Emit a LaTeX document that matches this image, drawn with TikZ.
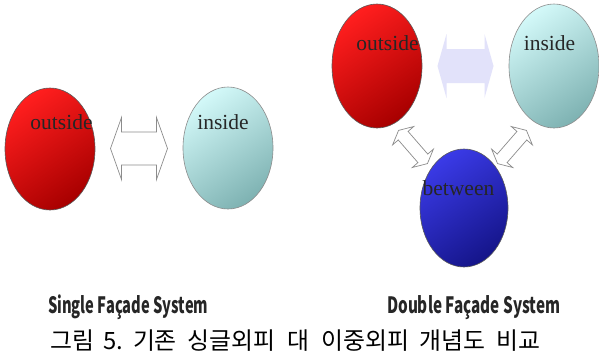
\documentclass[tikz,border=0pt]{standalone}
\usepackage{fontspec}
\usepackage{graphicx}
\usetikzlibrary{shapes.geometric,calc}
\setmainfont{Liberation Serif}
\newfontfamily\krfont{Noto Sans CJK KR}
\newfontfamily\labfont{Noto Sans CJK KR}
\definecolor{redA}{HTML}{FF1E1E}
\definecolor{redB}{HTML}{A80000}
\definecolor{cyA}{HTML}{D2F8F8}
\definecolor{cyB}{HTML}{7FB3B3}
\definecolor{blA}{HTML}{3A3AE6}
\definecolor{blB}{HTML}{15158A}
\definecolor{lav}{HTML}{E2E2FA}
% double block arrow: half length, head length, half head width, half shaft width
\newcommand\DArrow[4]{(-#1,0) -- (-#1+#2,-#3) -- (-#1+#2,-#4) -- (#1-#2,-#4) -- (#1-#2,-#3) -- (#1,0) -- (#1-#2,#3) -- (#1-#2,#4) -- (-#1+#2,#4) -- (-#1+#2,#3) -- cycle}
\begin{document}
\begin{tikzpicture}[x=1pt,y=-1pt,
  ball/.style={ellipse, inner sep=0, minimum width=90pt, line width=0.6pt},
  redball/.style={ball, draw=black!65, top color=redA, bottom color=redB, shading angle=35},
  cyball/.style={ball, draw=black!45, top color=cyA, bottom color=cyB, shading angle=35},
  blball/.style={ball, draw=black!65, top color=blA, bottom color=blB, shading angle=35},
  lbl/.style={font=\fontsize{21.5}{21.5}\selectfont, text=black!85, inner sep=0, anchor=base},
  hollow/.style={draw=black!45, line width=0.7pt, fill=white, line join=miter},
  soft/.style={fill=lav, draw=none},
  sysname/.style={inner sep=0, anchor=base west, text=black!85},
]
\useasboundingbox (0,0) rectangle (599,360);
\fill[white] (0,0) rectangle (599,360);

% single facade
\node[redball, minimum height=122pt] (lo) at (50,149) {};
\node[cyball, minimum height=122pt] (li) at (228,148) {};
\node[lbl] (tlo) at (61.5,129) {outside};
\node[lbl] (tli) at (223,129) {inside};
\fill[hollow, shift={($(lo)!0.5!(li)$)}] \DArrow{28.5}{11}{31}{16.5};

% double facade
\node[redball, minimum height=124pt] (ro) at (377,66) {};
\node[cyball, minimum height=124pt] (ri) at (554,66) {};
\node[blball, minimum width=88pt, minimum height=118pt] (rb) at (464,208) {};
\node[lbl] (tro) at (387.5,50) {outside};
\node[lbl] (tri) at (549.5,50) {inside};
\node[lbl] (trb) at (458.5,195) {between};
\fill[soft, shift={($(ro)!0.5!(ri)$)}] \DArrow{28}{9}{32}{17};
\filldraw[hollow, shift={(413,147)}, rotate=-49] \DArrow{22}{7}{14}{6.5};
\filldraw[hollow, shift={(512,147)}, rotate=49] \DArrow{22}{7}{14}{6.5};

% captions
\node[sysname] (s1) at (48,313) {\resizebox{160pt}{\height}{\labfont\bfseries\fontsize{22.5}{22.5}\selectfont Single Façade System}};
\node[sysname] (s2) at (387,313) {\resizebox{173pt}{\height}{\labfont\bfseries\fontsize{22.5}{22.5}\selectfont Double Façade System}};
\node[sysname, text=black] (cap) at (50,349) {\resizebox{490pt}{!}{\krfont\fontsize{20}{20}\selectfont 그림\hspace{8pt}5.\hspace{8pt}기존\hspace{9pt}싱글외피\hspace{10pt}대\hspace{10pt}이중외피\hspace{9pt}개념도\hspace{9pt}비교}};
\end{tikzpicture}
\end{document}
